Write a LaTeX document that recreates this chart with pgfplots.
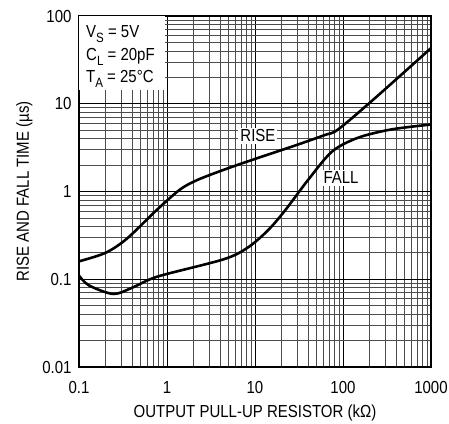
\documentclass[border=0pt]{standalone}
\usepackage{pgfplots}
\pgfplotsset{compat=1.18}
\usepackage{fontspec}
\setmainfont{Liberation Sans}[FakeStretch=0.86]
\newcommand{\fs}{\fontsize{17.5}{19}\selectfont}
\newcommand{\sub}[1]{\raisebox{-5bp}{\fontsize{13.5}{14}\selectfont #1}}
\begin{document}
\begin{tikzpicture}
\begin{axis}[name=ax,
  scale only axis, width=352bp, height=351bp,
  xmode=log, ymode=log,
  xmin=0.1, xmax=1000, ymin=0.01, ymax=100,
  xtick={0.1,1,10,100,1000}, xticklabels={0.1,1,10,100,1000},
  ytick={0.01,0.1,1,10,100}, yticklabels={0.01,0.1,1,10,100},
  minor xtick={0.2,0.3,0.4,0.5,0.6,0.7,0.8,0.9,2,3,4,5,6,7,8,9,20,30,40,50,60,70,80,90,200,300,400,500,600,700,800,900},
  minor ytick={0.02,0.03,0.04,0.05,0.06,0.07,0.08,0.09,0.2,0.3,0.4,0.5,0.6,0.7,0.8,0.9,2,3,4,5,6,7,8,9,20,30,40,50,60,70,80,90},
  grid=both,
  major grid style={black, line width=0.8pt},
  minor grid style={black!70, line width=0.75pt},
  major tick length=0pt, minor tick length=0pt,
  axis line style={black, line width=1.1pt},
  tick label style={font=\fs, black},
  xticklabel style={yshift=-11bp},
  yticklabel style={xshift=-4bp},
  label style={font=\fs},
  xlabel={OUTPUT PULL-UP RESISTOR (kΩ)},
  ylabel={RISE AND FALL TIME (µs)},
  xlabel style={yshift=-4bp},
  ylabel style={yshift=3bp},
  clip=false,
]
\addplot[black, line width=2.6pt, smooth, tension=0.5] coordinates {
(0.1,0.16) (0.2,0.2) (0.35,0.29) (0.77,0.62) (1.4,1.05) (2.2,1.35) (4.5,1.78) (10,2.35) (30,3.4) (62,4.4) (88,5.1) (229,11.5) (1000,43)
};
\addplot[black, line width=2.6pt, smooth, tension=0.5] coordinates {
(0.1,0.11) (0.13,0.085) (0.245,0.068) (0.4,0.08) (0.64,0.1) (1,0.115) (4.5,0.17) (8.3,0.23) (14,0.36) (22,0.61) (40,1.35) (75,2.85) (148,4.1) (355,5.1) (1000,5.8)
};
\fill[white] (rel axis cs:0,1) rectangle ([xshift=86bp,yshift=-74bp]rel axis cs:0,1);
\node[anchor=base west, font=\fs, inner sep=0pt] at ([xshift=7bp,yshift=-21bp]rel axis cs:0,1) {V\sub{S} = 5V};
\node[anchor=base west, font=\fs, inner sep=0pt] at ([xshift=7bp,yshift=-44bp]rel axis cs:0,1) {C\sub{L} = 20pF};
\node[anchor=base west, font=\fs, inner sep=0pt] at ([xshift=7bp,yshift=-66bp]rel axis cs:0,1) {T\sub{A} = 25°C};
\node[fill=white, font=\fs, inner sep=2pt] at (axis cs:10.8,4.3) {RISE};
\node[fill=white, font=\fs, inner sep=2pt] at (axis cs:95,1.44) {FALL};
\end{axis}
\pgfresetboundingbox
\path[use as bounding box] ([xshift=-79bp,yshift=-56bp]ax.south west) rectangle ([xshift=18bp,yshift=16bp]ax.north east);
\end{tikzpicture}
\end{document}
